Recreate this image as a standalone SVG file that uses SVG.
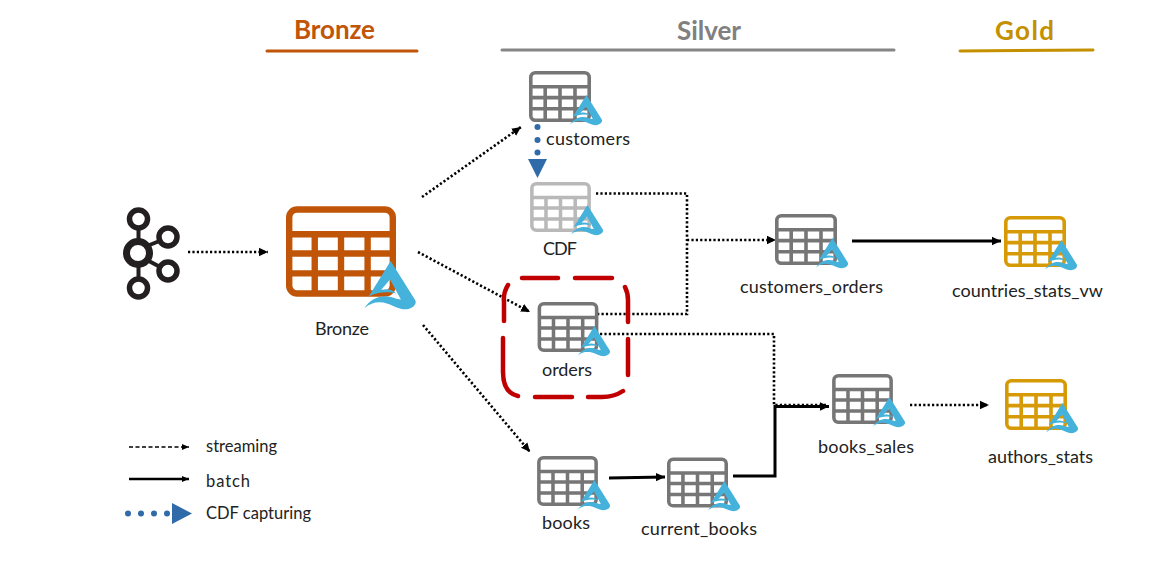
<svg xmlns="http://www.w3.org/2000/svg" xmlns:xlink="http://www.w3.org/1999/xlink" width="1164" height="567" viewBox="0 0 1164 567">
<style>
text{font-family:"Lato","Open Sans","Liberation Sans",sans-serif;fill:#222}
.lbl{font-size:18px}
.leg{font-size:16.5px}
.ttl{font-size:26px;font-weight:700}
.bronze{color:#c05507}.silver{color:#767676}.cdf{color:#b9b9b9}.gold{color:#d69a06}
.rule{stroke-width:3;stroke-linecap:round;fill:none}
.dot{fill:none;stroke:#000;stroke-width:2.6;stroke-dasharray:2.2 2.2}
.solid{fill:none;stroke:#000;stroke-width:3}
.blue{fill:#2f6ba8}
.red{fill:none;stroke:#c00000;stroke-width:4.5;stroke-linecap:round}
.k{fill:#fff;stroke:#231f20}
</style>
<defs>
<symbol id="tbl" viewBox="0 0 62 51" overflow="visible">
<g fill="none" stroke="currentColor" stroke-width="3.6">
<rect x="1.8" y="1.8" width="58.4" height="47.4" rx="4.5"/>
<path d="M1.8 15.8H60.2M1.8 26.6H60.2M1.8 37.8H60.2M16.2 15.8V49.2M31 15.8V49.2M46 15.8V49.2"/>
</g>
</symbol>
<symbol id="delta" viewBox="0 0 32 30" overflow="visible">
<path fill="#45b2dc" d="M16.4 0L31.8 24.5C32.8 26.5 31 28.8 28 29.8C23 31.2 19 28 14 26.5C9 25 4 26 0 29.5C3 24.5 8 22 13 22C17 22 20 24 22.800 24L16 11.500L10.500 18C14 17.200 17.500 17.500 20 20.500C15 18.800 8 19.500 2.800 22Z"/>
</symbol>
<marker id="ah" markerUnits="userSpaceOnUse" markerWidth="10" markerHeight="10" refX="9" refY="5" orient="auto"><path d="M0 .8L9 5L0 9.2Z"/></marker>
<marker id="ahs" markerUnits="userSpaceOnUse" markerWidth="8" markerHeight="8" refX="7" refY="4" orient="auto"><path d="M0 1L7 4L0 7Z"/></marker>
</defs>

<g id="headers">
<text class="ttl" x="334.500" y="39" text-anchor="middle" style="fill:#c05507" textLength="81">Bronze</text>
<path class="rule" d="M267 51H417" stroke="#c05507"/>
<text class="ttl" x="709" y="40" text-anchor="middle" style="fill:#808080" textLength="64">Silver</text>
<path class="rule" d="M502 50H894" stroke="#858585"/>
<text class="ttl" x="1024.500" y="40" text-anchor="middle" style="fill:#c49000" textLength="59">Gold</text>
<path class="rule" d="M960 51L1093 50" stroke="#c49000"/>
</g>

<g id="connectors">
<path class="dot" marker-end="url(#ah)" d="M188 252H268"/>
<path class="dot" marker-end="url(#ah)" d="M422 197L521 127"/>
<path class="dot" marker-end="url(#ah)" d="M418 252L530 312"/>
<path class="dot" marker-end="url(#ah)" d="M423 325L530 452"/>
<path class="dot" d="M596 193.500H687V314H598"/>
<path class="dot" marker-end="url(#ah)" d="M687 240H776"/>
<path class="solid" marker-end="url(#ah)" d="M733 476H775V406.500H829"/>
<path class="dot" d="M600 334H774V405H826"/>
<path class="solid" marker-end="url(#ah)" d="M609 478L665 477"/>
<path class="solid" marker-end="url(#ah)" d="M852 241H1001"/>
<path class="dot" marker-end="url(#ah)" d="M910 405H989"/>
<g id="cdf-capture">
<circle class="blue" cx="537.500" cy="127" r="3"/><circle class="blue" cx="537.500" cy="140" r="3"/><circle class="blue" cx="537.500" cy="152.500" r="3"/>
<path class="blue" d="M528 159H547L537.500 178Z"/>
</g>
</g>

<g id="kafka">
<g class="k">
<path stroke-width="4" d="M138.500 226V280M147 246L162 240M147 260L162 268"/>
<circle cx="138" cy="253" r="11.500" stroke-width="7"/>
<circle cx="138.500" cy="219" r="9" stroke-width="5.500"/>
<circle cx="138.500" cy="288" r="9" stroke-width="5.500"/>
<circle cx="168" cy="237" r="9" stroke-width="5.500"/>
<circle cx="168" cy="271" r="9" stroke-width="5.500"/>
</g>
</g>

<g id="bronze-table" class="bronze">
<use href="#tbl" x="286" y="206" width="110" height="91"/>
<use href="#delta" x="363" y="261" width="54" height="48"/>
<text class="lbl" x="342" y="335" text-anchor="middle" textLength="54">Bronze</text>
</g>
<g id="customers" class="silver">
<use href="#tbl" x="529" y="71" width="62" height="51"/>
<use href="#delta" x="570" y="95" width="32" height="30"/>
<text class="lbl" x="588" y="145" text-anchor="middle" textLength="84">customers</text>
</g>
<g id="cdf" class="cdf">
<use href="#tbl" x="530" y="182" width="61" height="50"/>
<use href="#delta" x="571" y="205" width="32" height="30"/>
<text class="lbl" x="560" y="254.500" text-anchor="middle" textLength="34">CDF</text>
</g>
<g id="orders-highlight">
<path class="red" d="M504 321V302Q503 293 508 285M522 278H558M575 278H612M625 287Q628 293 628 300V322M628 339V375M623 391Q614 397 602 397H588M572 397H535M518 396Q503 393 503 372V338"/>
</g>
<g id="orders" class="silver">
<use href="#tbl" x="537" y="302" width="62" height="50"/>
<use href="#delta" x="578" y="326" width="32" height="30"/>
<text class="lbl" x="567" y="376" text-anchor="middle" textLength="50">orders</text>
</g>
<g id="books" class="silver">
<use href="#tbl" x="537" y="456" width="61" height="50"/>
<use href="#delta" x="578" y="480" width="32" height="30"/>
<text class="lbl" x="566" y="529" text-anchor="middle" textLength="48">books</text>
</g>
<g id="current_books" class="silver">
<use href="#tbl" x="667" y="457" width="61" height="51"/>
<use href="#delta" x="708" y="481" width="32" height="30"/>
<text class="lbl" x="699" y="535" text-anchor="middle" textLength="116">current_books</text>
</g>
<g id="customers_orders" class="silver">
<use href="#tbl" x="775" y="214" width="62" height="51"/>
<use href="#delta" x="816" y="238" width="32" height="30"/>
<text class="lbl" x="811.500" y="293" text-anchor="middle" textLength="143">customers_orders</text>
</g>
<g id="books_sales" class="silver">
<use href="#tbl" x="832" y="374" width="61" height="50"/>
<use href="#delta" x="873" y="397" width="32" height="30"/>
<text class="lbl" x="866" y="453" text-anchor="middle" textLength="96">books_sales</text>
</g>
<g id="countries_stats_vw" class="gold">
<use href="#tbl" x="1004" y="216" width="62" height="51"/>
<use href="#delta" x="1045" y="240" width="32" height="30"/>
<text class="lbl" x="1027.500" y="297" text-anchor="middle" textLength="151">countries_stats_vw</text>
</g>
<g id="authors_stats" class="gold">
<use href="#tbl" x="1005" y="379" width="62" height="51"/>
<use href="#delta" x="1046" y="403" width="32" height="30"/>
<text class="lbl" x="1040.500" y="463" text-anchor="middle" textLength="105">authors_stats</text>
</g>

<g id="legend">
<path fill="none" stroke="#000" stroke-width="1.400" stroke-dasharray="4 2.500" marker-end="url(#ahs)" d="M129 447H189"/>
<path fill="none" stroke="#000" stroke-width="2.500" marker-end="url(#ahs)" d="M129 479H189"/>
<circle class="blue" cx="128" cy="513.500" r="3"/><circle class="blue" cx="141" cy="513.500" r="3"/><circle class="blue" cx="154" cy="513.500" r="3"/><circle class="blue" cx="167" cy="513.500" r="3"/>
<path class="blue" d="M172 503L192 513.500L172 524Z"/>
<text class="leg" x="206" y="452" textLength="71">streaming</text>
<text class="leg" x="206" y="487" textLength="44">batch</text>
<text class="leg" x="206" y="519" textLength="105">CDF capturing</text>
</g>
</svg>
